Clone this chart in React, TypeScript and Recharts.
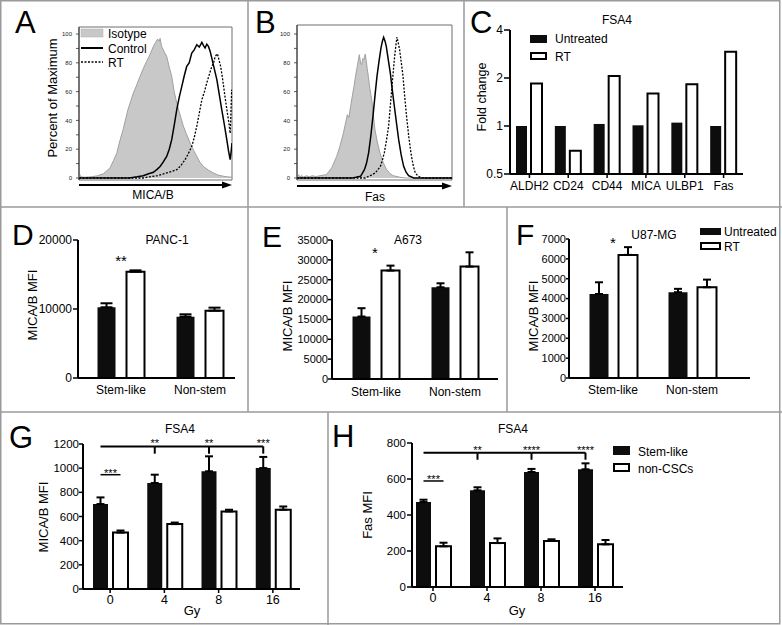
import React from 'react';
import {
  ComposedChart,
  BarChart,
  Bar,
  Area,
  Line,
  XAxis,
  YAxis,
  ErrorBar,
  ReferenceArea,
  LabelList,
} from 'recharts';

const FONT = '"Liberation Sans", Arial, Helvetica, sans-serif';

// ---------- Panel A (MICA/B histogram) : [bin position, percent of maximum] ----------
const aIsotype: [number, number][] = [
  [0, 4], [1, 1], [3, 0.5], [8, 0.8], [12, 1.5], [16, 3], [20.3, 7], [22.5, 12], [24.6, 17],
  [26.5, 25], [28.8, 33.5], [30.5, 41], [32, 47.5], [34, 54], [35.5, 59], [37.5, 64], [39.9, 70.6],
  [42, 76], [44.2, 81], [46.5, 86], [48.6, 91.4], [50, 94], [51.4, 96.5], [52.5, 95], [53, 97],
  [54, 91.4], [55.5, 88], [57.3, 84.5], [59, 77], [60.6, 70.6], [62.2, 60], [63.9, 52], [66, 44],
  [68.2, 36], [70.4, 30], [72.6, 24.3], [75, 19], [77, 15], [79, 11], [81.3, 8], [84.5, 5.5],
  [87.8, 3.5], [91, 2], [94.4, 1.2], [97, 0.8], [100, 0.5],
];
const aControl: [number, number][] = [
  [0, 0], [33, 0], [38, 0.8], [42, 1.6], [45, 2.8], [48.6, 4], [51, 6], [53, 8], [55, 11],
  [57.3, 15], [59, 20], [60.6, 26.6], [62.3, 37], [63.9, 47.5], [65.5, 56], [67.2, 63.7],
  [68.8, 71], [70.4, 77.5], [72, 80], [73.7, 86.8], [75.3, 89], [77, 92.6], [78.6, 91],
  [80.3, 94.2], [81.4, 92], [82.4, 90.3], [83.5, 93], [84.6, 91.4], [85.7, 88], [86.8, 83.3],
  [88.4, 76], [90.1, 68.3], [91.7, 58], [93.3, 47.5], [95, 37], [96.6, 26.6], [97.7, 19],
  [98.8, 12.7], [99.4, 18], [100, 24.3],
];
const aRT: [number, number][] = [
  [0, 0], [42, 0], [46, 0.8], [51.4, 1.6], [54, 2.5], [57.3, 3.5], [60.5, 4.5], [63.9, 5.8],
  [66.5, 8.5], [69.3, 12.7], [71.5, 17], [73.7, 22], [75.3, 28], [77, 36], [78.6, 45],
  [80.3, 54.4], [82, 60], [83.5, 66], [85.2, 72], [86.8, 77.5], [88, 80], [89, 84.5],
  [90.5, 86.3], [91.5, 82], [92.6, 77.5], [93.7, 70], [94.8, 61.3], [95.9, 53], [97, 45],
  [98, 38], [98.8, 31], [99.3, 45], [99.8, 61.3], [100, 58],
];

// ---------- Panel B (Fas histogram) ----------
const bIsotype: [number, number][] = [
  [0, 1], [1, 2.3], [2, 0.5], [3, 1.8], [4, 0.6], [6, 1.5], [8, 0.8], [10, 1.6], [12, 1],
  [14, 1.4], [16, 1.8], [19, 2.3], [20.5, 4.5], [22.4, 7], [24, 11], [25.6, 15], [27.7, 22],
  [29.9, 31], [31.5, 39], [32.5, 44], [33.5, 42], [34.6, 49.8], [35.7, 57], [36.8, 63.7],
  [37.8, 71], [38.9, 77.5], [40.2, 85.6], [41, 80], [41.7, 78.7], [42.5, 83], [43.2, 82.2],
  [44, 86], [44.5, 82.6], [45.3, 76], [46, 70.6], [47, 62], [48.2, 54.4], [49.2, 44],
  [50.3, 33.6], [51.8, 25], [53.5, 17.4], [55.5, 11], [57.8, 5.8], [60, 3], [62.1, 1.6],
  [66.4, 0.5], [70, 0], [100, 0],
];
const bControl: [number, number][] = [
  [0, 0], [35.6, 0], [38, 0.5], [41, 1.2], [43.5, 5.8], [44.8, 10], [46.2, 17.4], [47.6, 29],
  [49, 42.8], [50.3, 57], [51.6, 70.6], [52.9, 81], [54.2, 90.3], [55.1, 95], [55.9, 97.7],
  [56.8, 95], [57.6, 91.4], [58.9, 82], [60.2, 72.9], [61.5, 61], [62.8, 49.8], [64.2, 38],
  [65.6, 26.6], [67.2, 16], [68.8, 8.1], [70.4, 4], [72, 1.6], [75.3, 0], [100, 0],
];
const bRT: [number, number][] = [
  [0, 0], [44, 0], [45.2, 0.7], [48, 2], [50.5, 3.5], [52, 5.5], [53.8, 8.1], [55, 12],
  [56.3, 17.4], [57.7, 26], [59.1, 35.9], [60.2, 50], [61.3, 63.7], [62.2, 75], [63, 84.5],
  [63.8, 92], [64.5, 97.9], [65.3, 94], [66.2, 89.1], [67.3, 80], [68.4, 70.6], [69.6, 55],
  [70.9, 40.5], [72.2, 28], [73.5, 17.4], [74.9, 9], [76.3, 3.5], [78, 1.5], [79.5, 0.5],
  [82, 0], [100, 0],
];
const histTicks = [0, 10, 20, 30, 40, 50, 60, 70, 80, 90, 100];

// ---------- Panel C ----------
const cGenes = ['ALDH2', 'CD24', 'CD44', 'MICA', 'ULBP1', 'Fas'];
const cUntreated = [1.0, 1.0, 1.03, 1.01, 1.05, 1.0];
const cRT = [1.85, 0.7, 2.06, 1.6, 1.83, 2.92];
const cTicks = [0.5, 1, 2, 4];

// ---------- Panels D, E, F ----------
const mfiCats = ['Stem-like', 'Non-stem'];
const dUntreated = [10250, 8890];
const dUntreatedErr = [580, 340];
const dRT = [15400, 9760];
const dRTErr = [200, 435];
const dTicks = [0, 10000, 20000];

const eUntreated = [15730, 23100];
const eUntreatedErr = [2100, 1000];
const eRT = [27300, 28300];
const eRTErr = [1250, 3600];
const eTicks = [0, 5000, 10000, 15000, 20000, 25000, 30000, 35000];

const fUntreated = [4230, 4320];
const fUntreatedErr = [590, 170];
const fRT = [6200, 4570];
const fRTErr = [390, 385];
const fTicks = [0, 1000, 2000, 3000, 4000, 5000, 6000, 7000];

// ---------- Panels G, H ----------
const doses = ['0', '4', '8', '16'];
const gStem = [703, 877, 974, 1001];
const gStemErr = [55, 69, 124, 92];
const gNon = [467, 537, 642, 656];
const gNonErr = [17, 13, 14, 27];
const gTicks = [0, 200, 400, 600, 800, 1000, 1200];
const gStars = ['***', '**', '**', '***'];

const hStem = [472, 537, 639, 654];
const hStemErr = [13, 17, 17, 33];
const hNon = [226, 244, 256, 237];
const hNonErr = [20, 26, 9, 24];
const hTicks = [0, 200, 400, 600, 800];
const hStars = ['***', '**', '****', '****'];

// ---------- tables built from the arrays ----------
const pts = (arr: [number, number][]) => arr.map(([x, v]) => ({ x, v }));
const cData = cGenes.map((cat, i) => ({ cat, a: cUntreated[i], b: cRT[i] }));
const pairTable = (cats: string[], a: number[], ae: number[], b: number[], be: number[]) =>
  cats.map((cat, i) => ({ cat, a: a[i], ae: [0, ae[i]], b: b[i], be: [0, be[i]] }));
const dData = pairTable(mfiCats, dUntreated, dUntreatedErr, dRT, dRTErr);
const eData = pairTable(mfiCats, eUntreated, eUntreatedErr, eRT, eRTErr);
const fData = pairTable(mfiCats, fUntreated, fUntreatedErr, fRT, fRTErr);
const gData = pairTable(doses, gStem, gStemErr, gNon, gNonErr);
const hData = pairTable(doses, hStem, hStemErr, hNon, hNonErr);

const AXIS = { stroke: '#000', strokeWidth: 2 };
const TICKLINE = { stroke: '#000', strokeWidth: 1.5 };

function Histogram(p: any) {
  return (
    <div style={{ position: 'absolute', left: p.left, top: p.top }}>
      <ComposedChart width={p.width} height={p.height} margin={p.margin}>
        <XAxis type="number" dataKey="x" domain={[0, 100]} hide allowDataOverflow />
        <YAxis
          type="number"
          domain={p.yDomain}
          ticks={histTicks}
          interval={0}
          tickFormatter={(v: number) => (v % 20 === 0 ? String(v) : '')}
          width={30}
          tickSize={3}
          tickMargin={4}
          allowDataOverflow
          axisLine={{ stroke: '#333', strokeWidth: 1 }}
          tickLine={{ stroke: '#333', strokeWidth: 0.8 }}
          tick={{ fontSize: 6, fill: '#222', fontFamily: FONT }}
        />
        <ReferenceArea
          x1={0}
          x2={100}
          y1={p.yDomain[0]}
          y2={p.yDomain[1]}
          fill="none"
          stroke="#6e6e6e"
          strokeWidth={1}
          ifOverflow="visible"
        />
        <Area
          data={pts(p.iso)}
          dataKey="v"
          type="linear"
          stroke="#a0a0a0"
          strokeWidth={1}
          fill="#c8c8c8"
          fillOpacity={1}
          dot={false}
          activeDot={false}
          isAnimationActive={false}
        />
        <Line
          data={pts(p.ctrl)}
          dataKey="v"
          type="linear"
          stroke="#000"
          strokeWidth={1.5}
          dot={false}
          activeDot={false}
          isAnimationActive={false}
        />
        <Line
          data={pts(p.rt)}
          dataKey="v"
          type="linear"
          stroke="#000"
          strokeWidth={1.3}
          strokeDasharray="2 1.5"
          dot={false}
          activeDot={false}
          isAnimationActive={false}
        />
      </ComposedChart>
    </div>
  );
}

function BarPanel(p: any) {
  return (
    <div style={{ position: 'absolute', left: p.left, top: p.top }}>
      <BarChart
        width={p.width}
        height={p.height}
        data={p.data}
        margin={p.margin}
        barSize={p.barSize}
        barGap={p.barGap}
      >
        <XAxis
          dataKey="cat"
          type="category"
          interval={0}
          height={25}
          padding={p.xPad}
          tickSize={p.xTickSize}
          tickMargin={p.xTickMargin}
          tickLine={p.xTickSize ? TICKLINE : false}
          axisLine={AXIS}
          tick={{ fontSize: p.xFont, fill: '#000', fontFamily: FONT }}
        />
        <YAxis
          type="number"
          scale={p.yScale || 'auto'}
          domain={p.yDomain}
          ticks={p.yTicks}
          interval={0}
          width={p.yWidth}
          tickSize={p.yTickSize}
          tickMargin={p.yTickMargin}
          allowDataOverflow
          axisLine={AXIS}
          tickLine={TICKLINE}
          tick={{ fontSize: p.yFont, fill: '#000', fontFamily: FONT }}
        />
        <Bar dataKey="a" fill="#0d0d0d" isAnimationActive={false}>
          {p.err ? (
            <ErrorBar dataKey="ae" direction="y" width={p.capW} strokeWidth={2} stroke="#000" />
          ) : null}
          {p.labelContent ? <LabelList dataKey="a" content={p.labelContent} /> : null}
        </Bar>
        <Bar dataKey="b" fill="#fff" stroke="#000" strokeWidth={2} isAnimationActive={false}>
          {p.err ? (
            <ErrorBar dataKey="be" direction="y" width={p.capW} strokeWidth={2} stroke="#000" />
          ) : null}
        </Bar>
      </BarChart>
    </div>
  );
}

// significance bracket drawn from each black bar's own geometry
function bracketLabel(cfg: any) {
  return (props: any) => {
    const vb = props.viewBox || {};
    const x = Number(props.x ?? vb.x);
    const y = Number(props.y ?? vb.y);
    const w = Number(props.width ?? vb.width);
    const h = Number(props.height ?? vb.height);
    const v = Number(props.value);
    const i = Number(props.index);
    if (!isFinite(x) || !isFinite(y) || !v || !h) return null;
    const cx = x + w / 2;
    const base = y + h;
    const k = h / v;
    const yb = base - cfg.bracket * k;
    const yt = base - cfg.tickEnd * k;
    const yp = base - cfg.pair * k;
    const s = cfg.stars[i];
    if (i === 0) {
      return (
        <g>
          <line x1={cx} x2={cx + cfg.pairDx} y1={yp} y2={yp} stroke="#000" strokeWidth={1.5} />
          <text
            x={cx + cfg.pairDx / 2}
            y={yp + 2}
            textAnchor="middle"
            fontSize={11}
            fontFamily={FONT}
            fill="#000"
          >
            {s}
          </text>
        </g>
      );
    }
    return (
      <g>
        <line x1={cx - cfg.step} x2={cx} y1={yb} y2={yb} stroke="#000" strokeWidth={2} />
        <line x1={cx} x2={cx} y1={yb} y2={yt} stroke="#000" strokeWidth={2} />
        <text x={cx} y={yb + 1} textAnchor="middle" fontSize={11} fontFamily={FONT} fill="#000">
          {s}
        </text>
      </g>
    );
  };
}

const G_W = 328;
const G_M = { top: 32, right: 28, bottom: 11, left: 38 };
const G_PAD = { left: 0, right: 0 };
const H_W = 454;
const H_M = { top: 31, right: 159, bottom: 13, left: 39 };
const H_PAD = { left: -6, right: 1 };
const GH_YW = 45;
const gStep = (G_W - G_M.left - G_M.right - GH_YW - G_PAD.left - G_PAD.right) / doses.length;
const hStep = (H_W - H_M.left - H_M.right - GH_YW - H_PAD.left - H_PAD.right) / doses.length;

const gLabel = bracketLabel({ step: gStep, bracket: 1180, tickEnd: 1120, pair: 946, pairDx: 20, stars: gStars });
const hLabel = bracketLabel({ step: hStep, bracket: 746, tickEnd: 707, pair: 589, pairDx: 20, stars: hStars });

const T = (props: any) => <text fontFamily={FONT} fill="#000" {...props} />;
const VLabel = ({ x, y, size = 13, children }: any) => (
  <text
    x={x}
    y={y}
    transform={`rotate(-90 ${x} ${y})`}
    textAnchor="middle"
    dominantBaseline="central"
    fontSize={size}
    fontFamily={FONT}
    fill="#000"
  >
    {children}
  </text>
);

export default function App() {
  const border = '#9a9a9a';
  return (
    <div
      style={{
        position: 'absolute',
        left: 0,
        top: 0,
        width: 782,
        height: 625,
        background: '#fff',
        overflow: 'hidden',
        fontFamily: FONT,
      }}
    >
      <Histogram
        left={0}
        top={0}
        width={248}
        height={207}
        margin={{ top: 27, right: 16, bottom: 27, left: 49 }}
        yDomain={[-1.4, 104.9]}
        iso={aIsotype}
        ctrl={aControl}
        rt={aRT}
      />
      <Histogram
        left={248}
        top={0}
        width={216}
        height={207}
        margin={{ top: 25, right: 12, bottom: 27, left: 19 }}
        yDomain={[-1.4, 106.25]}
        iso={bIsotype}
        ctrl={bControl}
        rt={bRT}
      />
      <BarPanel
        left={464}
        top={0}
        width={318}
        height={207}
        margin={{ top: 30, right: 39, bottom: 8, left: 6 }}
        data={cData}
        yScale="log"
        yDomain={[0.5, 4]}
        yTicks={cTicks}
        yWidth={40}
        yTickSize={6}
        yTickMargin={1}
        yFont={12}
        xPad={{ left: 0, right: 0 }}
        xTickSize={4}
        xTickMargin={3}
        xFont={12}
        barSize={11}
        barGap={4}
        err={false}
      />
      <BarPanel
        left={0}
        top={207}
        width={248}
        height={205}
        margin={{ top: 33, right: 13, bottom: 9, left: 28 }}
        data={dData}
        yDomain={[0, 20000]}
        yTicks={dTicks}
        yWidth={50}
        yTickSize={5}
        yTickMargin={1}
        yFont={12}
        xPad={{ left: 3.5, right: -4.5 }}
        xTickSize={0}
        xTickMargin={7}
        xFont={12}
        barSize={18}
        barGap={11}
        err
        capW={6}
      />
      <BarPanel
        left={248}
        top={207}
        width={259}
        height={205}
        margin={{ top: 33, right: 9, bottom: 8, left: 34 }}
        data={eData}
        yDomain={[0, 35000]}
        yTicks={eTicks}
        yWidth={50}
        yTickSize={4}
        yTickMargin={0}
        yFont={11}
        xPad={{ left: 4.5, right: 3.5 }}
        xTickSize={0}
        xTickMargin={8}
        xFont={12}
        barSize={18}
        barGap={11}
        err
        capW={4}
      />
      <BarPanel
        left={507}
        top={207}
        width={275}
        height={205}
        margin={{ top: 32, right: 32, bottom: 9, left: 17 }}
        data={fData}
        yDomain={[0, 7000]}
        yTicks={fTicks}
        yWidth={45}
        yTickSize={3}
        yTickMargin={0}
        yFont={11}
        xPad={{ left: 4.5, right: 18.5 }}
        xTickSize={0}
        xTickMargin={7}
        xFont={12}
        barSize={19}
        barGap={10}
        err
        capW={4}
      />
      <BarPanel
        left={0}
        top={412}
        width={G_W}
        height={213}
        margin={G_M}
        data={gData}
        yDomain={[0, 1200]}
        yTicks={gTicks}
        yWidth={GH_YW}
        yTickSize={4}
        yTickMargin={0}
        yFont={11.5}
        xPad={G_PAD}
        xTickSize={4}
        xTickMargin={2}
        xFont={12.5}
        barSize={15}
        barGap={5}
        err
        capW={4}
        labelContent={gLabel}
      />
      <BarPanel
        left={328}
        top={412}
        width={H_W}
        height={213}
        margin={H_M}
        data={hData}
        yDomain={[0, 800]}
        yTicks={hTicks}
        yWidth={GH_YW}
        yTickSize={5}
        yTickMargin={1}
        yFont={11.5}
        xPad={H_PAD}
        xTickSize={4}
        xTickMargin={2}
        xFont={12.5}
        barSize={15}
        barGap={5}
        err
        capW={4}
        labelContent={hLabel}
      />

      <svg
        width={782}
        height={625}
        style={{ position: 'absolute', left: 0, top: 0, pointerEvents: 'none' }}
      >
        {/* panel frames */}
        <rect x={0.75} y={0.75} width={779} height={623} fill="none" stroke={border} strokeWidth={1.5} />
        <line x1={0} x2={782} y1={207} y2={207} stroke={border} strokeWidth={1.5} />
        <line x1={0} x2={782} y1={412} y2={412} stroke={border} strokeWidth={1.5} />
        <line x1={248} x2={248} y1={0} y2={412} stroke={border} strokeWidth={1.5} />
        <line x1={464} x2={464} y1={0} y2={207} stroke={border} strokeWidth={1.5} />
        <line x1={507} x2={507} y1={207} y2={412} stroke={border} strokeWidth={1.5} />
        <line x1={328} x2={328} y1={412} y2={625} stroke={border} strokeWidth={1.5} />

        {/* panel letters */}
        <T x={15} y={33} fontSize={31}>A</T>
        <T x={255} y={33} fontSize={31}>B</T>
        <T x={470} y={33} fontSize={31}>C</T>
        <T x={12} y={245} fontSize={30}>D</T>
        <T x={262} y={247} fontSize={30}>E</T>
        <T x={516} y={245} fontSize={30}>F</T>
        <T x={9} y={448} fontSize={31}>G</T>
        <T x={332} y={447} fontSize={31}>H</T>

        {/* A legend */}
        <rect x={81} y={29} width={22} height={8} fill="#c8c8c8" stroke="#b0b0b0" strokeWidth={0.5} />
        <T x={108} y={37.5} fontSize={12}>Isotype</T>
        <line x1={81} x2={103} y1={48} y2={48} stroke="#000" strokeWidth={2} />
        <T x={108} y={52.5} fontSize={12}>Control</T>
        <line x1={81} x2={103} y1={62} y2={62} stroke="#000" strokeWidth={1.5} strokeDasharray="2 1.5" />
        <T x={108} y={66.5} fontSize={12}>RT</T>

        {/* A, B axis arrows and labels */}
        <line x1={79} x2={223} y1={185} y2={185} stroke="#000" strokeWidth={2} />
        <polygon points="222,181.5 232,185 222,188.5" fill="#000" />
        <T x={153} y={199} fontSize={12} textAnchor="middle">MICA/B</T>
        <line x1={297} x2={443} y1={186} y2={186} stroke="#000" strokeWidth={2} />
        <polygon points="442,182.5 452,186 442,189.5" fill="#000" />
        <T x={375} y={201} fontSize={12} textAnchor="middle">Fas</T>
        <VLabel x={52} y={98} size={13}>Percent of Maximum</VLabel>

        {/* C */}
        <T x={617} y={24} fontSize={12} textAnchor="middle">FSA4</T>
        <rect x={530} y={35} width={17} height={8} fill="#0d0d0d" />
        <T x={555} y={43} fontSize={12}>Untreated</T>
        <rect x={531} y={53} width={15} height={6} fill="#fff" stroke="#000" strokeWidth={2} />
        <T x={555} y={60.5} fontSize={12}>RT</T>
        <VLabel x={482} y={97} size={12.5}>Fold change</VLabel>

        {/* D */}
        <T x={167} y={244} fontSize={12} textAnchor="middle">PANC-1</T>
        <T x={121} y={265.5} fontSize={15} textAnchor="middle">**</T>
        <VLabel x={32} y={305}>MICA/B MFI</VLabel>

        {/* E */}
        <T x={408} y={244} fontSize={12} textAnchor="middle">A673</T>
        <T x={375} y={258} fontSize={15} textAnchor="middle">*</T>
        <VLabel x={287} y={316}>MICA/B MFI</VLabel>

        {/* F */}
        <T x={654} y={239} fontSize={12} textAnchor="middle">U87-MG</T>
        <T x={613} y={248} fontSize={15} textAnchor="middle">*</T>
        <rect x={700} y={228} width={21} height={7} fill="#0d0d0d" />
        <T x={724} y={235.5} fontSize={12}>Untreated</T>
        <rect x={701} y={243} width={19} height={6} fill="#fff" stroke="#000" strokeWidth={2} />
        <T x={724} y={250.5} fontSize={12}>RT</T>
        <VLabel x={533} y={316}>MICA/B MFI</VLabel>

        {/* G */}
        <T x={180} y={432.5} fontSize={12} textAnchor="middle">FSA4</T>
        <T x={192} y={614.5} fontSize={13} textAnchor="middle">Gy</T>
        <VLabel x={43} y={517}>MICA/B MFI</VLabel>

        {/* H */}
        <T x={513} y={432.5} fontSize={12} textAnchor="middle">FSA4</T>
        <T x={517} y={614.5} fontSize={13} textAnchor="middle">Gy</T>
        <rect x={613} y={446} width={17} height={9} fill="#0d0d0d" />
        <T x={638} y={455.5} fontSize={12}>Stem-like</T>
        <rect x={614} y={464} width={15} height={7} fill="#fff" stroke="#000" strokeWidth={2} />
        <T x={638} y={472.5} fontSize={12}>non-CSCs</T>
        <VLabel x={367} y={515}>Fas MFI</VLabel>
      </svg>
    </div>
  );
}
